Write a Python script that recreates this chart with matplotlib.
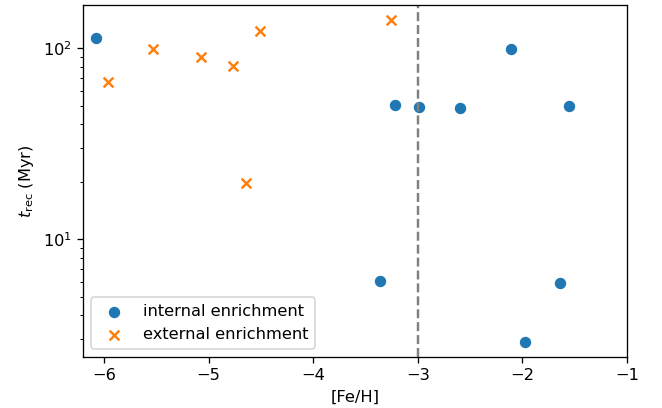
import numpy as np
import matplotlib
matplotlib.use("Agg")
import matplotlib.pyplot as plt

# internal enrichment
feh_int = [-6.08, -3.22, -2.99, -2.60, -2.105, -1.55, -3.36, -1.64, -1.97]
trec_int = [112.8, 50.4, 49.2, 48.6, 98.8, 49.8, 6.05, 5.9, 2.9]

# external enrichment
feh_ext = [-5.96, -5.53, -5.07, -4.77, -4.51, -4.64, -3.26]
trec_ext = [66.4, 98.8, 89.7, 80.5, 122.7, 19.7, 140]

dpi = 117
fig = plt.figure(figsize=(662 / dpi, 408 / dpi), dpi=dpi)
ax = fig.add_axes([0.1254, 0.1257, 0.8216, 0.862])

ax.scatter(feh_int, trec_int, color='C0', marker='o', label='internal enrichment')
ax.scatter(feh_ext, trec_ext, color='C1', marker='x', label='external enrichment')
ax.axvline(-3, color='gray', linestyle='--')

ax.set_yscale('log')
ax.set_xlim(-6.2, -1)
ax.set_ylim(2.43, 168)
ax.set_xlabel('[Fe/H]')
ax.set_ylabel(r'$t_{\rm rec}$ (Myr)')
ax.legend(loc='lower left')

fig.savefig('out.png', dpi=dpi)
